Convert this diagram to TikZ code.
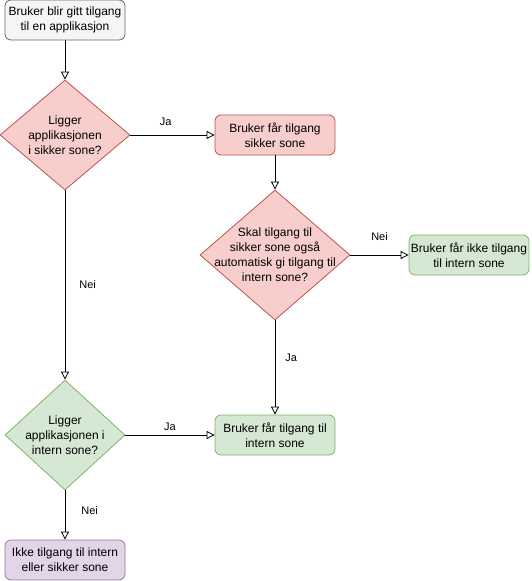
\documentclass[tikz,border=0pt]{standalone}
\usepackage{fontspec}
\setmainfont{Liberation Sans}
\usepackage{tikz}
\usetikzlibrary{positioning}
\usetikzlibrary{shapes.geometric}
\usetikzlibrary{arrows.meta}
\usepackage{xcolor}
\definecolor{startfill}{HTML}{F5F5F5}
\definecolor{startline}{HTML}{666666}
\definecolor{redfill}{HTML}{F8CECC}
\definecolor{redline}{HTML}{B85450}
\definecolor{greenfill}{HTML}{D5E8D4}
\definecolor{greenline}{HTML}{82B366}
\definecolor{purplefill}{HTML}{E1D5E7}
\definecolor{purpleline}{HTML}{9673A6}

\begin{document}
\begin{tikzpicture}[
    x=1pt, y=-1pt,
    font=\fontsize{12}{15}\selectfont,
    box/.style={rectangle, rounded corners=6pt, minimum width=120pt, minimum height=40pt, align=center, inner sep=0pt, line width=0.8pt},
    decision/.style={diamond, inner sep=0pt, line width=0.8pt},
    flow/.style={line width=0.8pt, -{Triangle[open, length=8pt, width=8pt]}},
    lbl/.style={font=\fontsize{11}{13}\selectfont, inner sep=1pt}
]
    \useasboundingbox (0,0) rectangle (531,581);

    % Boxes
    \node[box, fill=startfill, draw=startline] (start) at (65,20) {Bruker blir gitt tilgang\\til en applikasjon};
    \node[box, fill=redfill, draw=redline] (sikker) at (275,135) {Bruker får tilgang\\sikker sone};
    \node[box, fill=greenfill, draw=greenline] (ikke) at (469,255) {Bruker får ikke tilgang\\til intern sone};
    \node[box, fill=greenfill, draw=greenline] (intern) at (275,435) {Bruker får tilgang til\\intern sone};
    \node[box, fill=purplefill, draw=purpleline] (ingen) at (65,560) {Ikke tilgang til intern\\eller sikker sone};

    % Decisions
    \node[decision, fill=redfill, draw=redline, minimum width=130pt, minimum height=110pt] (q1) at (65,135) {};
    \node[align=center] (q1text) at (q1) {Ligger\\applikasjonen\\i sikker sone?};
    \node[decision, fill=redfill, draw=redline, minimum width=150pt, minimum height=130pt] (q2) at (275,255) {};
    \node[align=center] (q2text) at (q2) {Skal tilgang til\\sikker sone også\\automatisk gi tilgang til\\intern sone?};
    \node[decision, fill=greenfill, draw=greenline, minimum width=120pt, minimum height=110pt] (q3) at (65,435) {};
    \node[align=center] (q3text) at (q3) {Ligger\\applikasjonen i\\intern sone?};

    % Connectors
    \draw[flow] (start.south) -- (q1.north);
    \draw[flow] (q1.east) -- (sikker.west) node[lbl, pos=0.42, above=8pt] {Ja};
    \draw[flow] (q1.south) -- (q3.north) node[lbl, midway, right=13pt] {Nei};
    \draw[flow] (sikker.south) -- (q2.north);
    \draw[flow] (q2.east) -- (ikke.west) node[lbl, midway, above=13pt] {Nei};
    \draw[flow] (q2.south) -- (intern.north) node[lbl, pos=0.4, right=9pt] {Ja};
    \draw[flow] (q3.east) -- (intern.west) node[lbl, midway, above=3pt] {Ja};
    \draw[flow] (q3.south) -- (ingen.north) node[lbl, pos=0.4, right=15pt] {Nei};
\end{tikzpicture}
\end{document}
